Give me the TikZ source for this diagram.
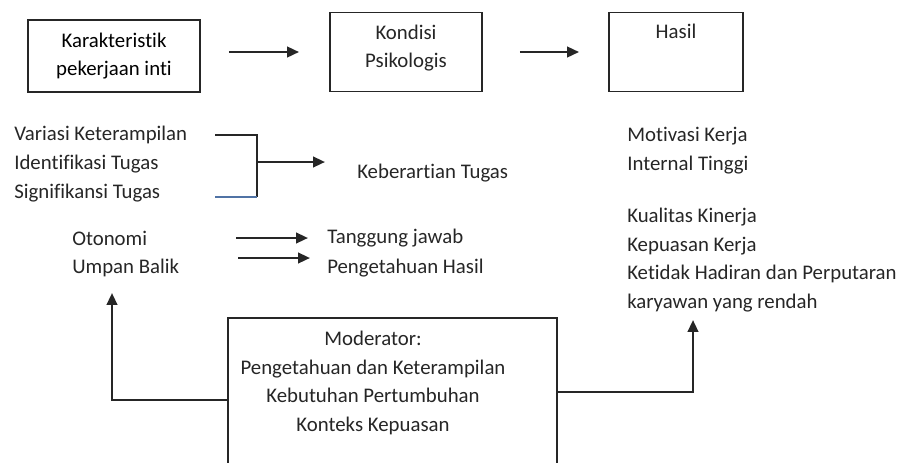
\documentclass[tikz,border=0pt]{standalone}
\usepackage{fontspec}
\setmainfont{Carlito}[Ligatures={NoCommon}]
\usetikzlibrary{arrows.meta, positioning}
\definecolor{brkblue}{RGB}{80,115,165}

\begin{document}
\begin{tikzpicture}[
    x=0.025cm, y=-0.025cm,
    box/.style={rectangle, draw=black!85, line width=1.3pt, fill=white,
                align=center, inner sep=0pt},
    txt/.style={anchor=west, inner sep=0pt, align=left, text=black!85},
    arr/.style={-{Triangle[length=8.5pt, width=7.5pt]}, line width=1.7pt, black!85},
    brk/.style={line width=1.3pt, black!85},
    font=\fontsize{14.8}{20.5}\selectfont
  ]
    \useasboundingbox (0,0) rectangle (905,462);

    % Top row
    \node[box, minimum width=4.3cm, minimum height=1.8cm] (inti) at (114,56)
      {Karakteristik\\pekerjaan inti};
    \node[box, minimum width=3.8cm, minimum height=1.975cm] (kondisi) at (406,52) {};
    \node[inner sep=0pt, align=center, text=black!85] (kondisitxt) at (406,48)
      {Kondisi\\Psikologis};
    \node[box, minimum width=3.35cm, minimum height=1.975cm] (hasil) at (676,52) {};
    \node[inner sep=0pt, below=0.3cm of hasil.north, text=black!85] (hasiltxt) {Hasil};

    \draw[arr, shorten <=0.7cm, shorten >=0.75cm] (inti.east |- kondisi.west) -- (kondisi.west);
    \draw[arr, shorten <=0.925cm, shorten >=0.725cm] (kondisi.east) -- (hasil.west);

    % Core job dimensions
    \node[txt] (variasi) at (14,164)
      {Variasi Keterampilan\\Identifikasi Tugas\\Signifikansi Tugas};
    \node[txt] (keb) at (357,173) {Keberartian Tugas};
    \node[txt] (oto) at (72,238) {Otonomi};
    \node[txt] (umpan) at (72,268) {Umpan Balik};
    \node[txt] (tj) at (327,238) {Tanggung jawab};
    \node[txt] (ph) at (327,268) {Pengetahuan Hasil};

    % Outcomes
    \node[txt] (motivasi) at (627,150.5) {Motivasi Kerja\\Internal Tinggi};
    \node[txt] (kualitas) at (627,260)
      {Kualitas Kinerja\\Kepuasan Kerja\\Ketidak Hadiran dan Perputaran\\karyawan yang rendah};

    % Bracket
    \coordinate (b1) at (215,135);
    \coordinate (b2) at (215,197);
    \coordinate (bm) at (257,162);
    \draw[brk] (b1) -| (bm |- b2);
    \draw[line width=1.3pt, brkblue] (bm |- b2) -- (b2);
    \draw[arr, shorten >=0.8cm] (bm) -- (bm -| keb.west);

    \coordinate (a1) at (236,238);
    \coordinate (a2) at (238,258);
    \draw[arr, shorten >=0.475cm] (a1) -- (tj.west);
    \draw[arr, shorten >=0.425cm] (a2) -- (a2 -| ph.west);

    % Moderator
    \begin{scope}
      \clip (0,0) rectangle (905,462);
      \node[box, minimum width=8.225cm, minimum height=4.1cm] (modbox) at (392.5,400) {};
    \end{scope}
    \node[inner sep=0pt, align=center, text=black!85] (modtxt) at (373,383)
      {Moderator:\\Pengetahuan dan Keterampilan\\Kebutuhan Pertumbuhan\\Konteks Kepuasan};

    \coordinate (fbtip) at (112,293);
    \coordinate (hasiltip) at (693,320);
    \draw[arr] (modbox.west) -| (fbtip);
    \draw[arr] ([yshift=0.2cm]modbox.east) -| (hasiltip);

\end{tikzpicture}
\end{document}
